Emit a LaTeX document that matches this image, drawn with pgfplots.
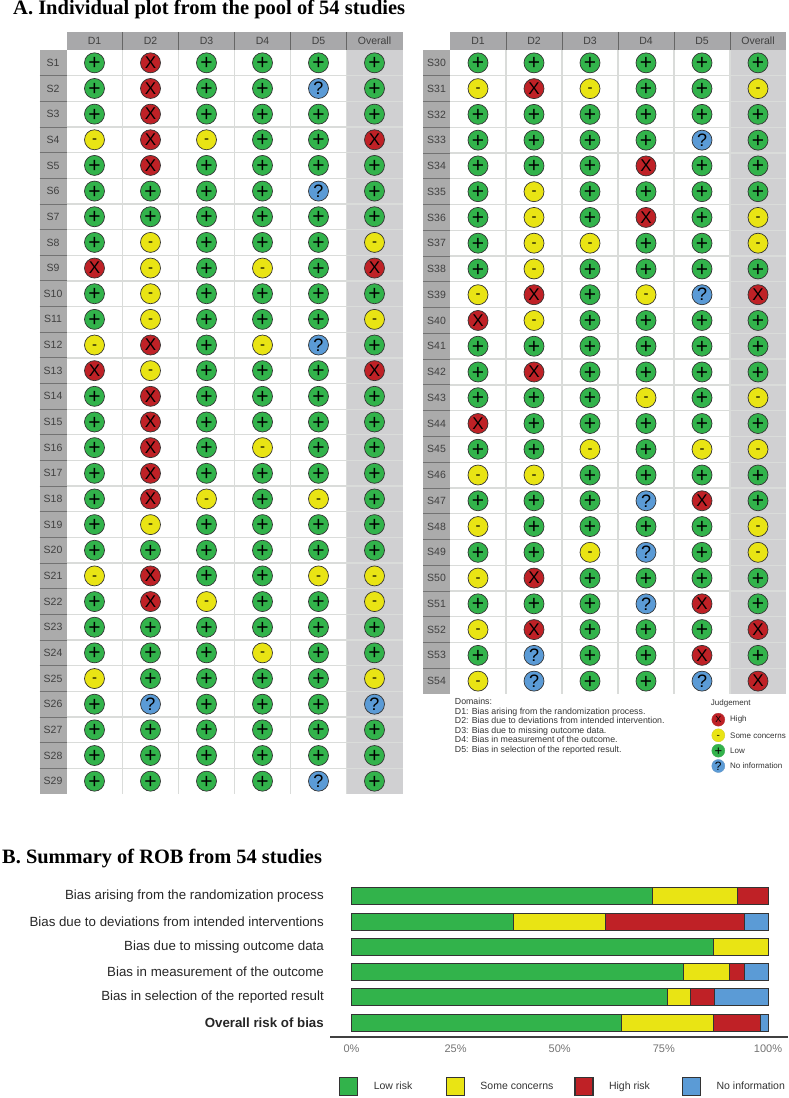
\documentclass[border=0pt]{standalone}
\usepackage{fontspec}
\setmainfont{Liberation Sans}
\newfontfamily\titlefont{Liberation Serif}
\usepackage{pgfplots}
\pgfplotsset{compat=1.18}

\definecolor{lowc}{HTML}{32B34B}
\definecolor{somec}{HTML}{E9E414}
\definecolor{highc}{HTML}{BF2126}
\definecolor{nonec}{HTML}{5B9BD6}
\definecolor{headc}{HTML}{A8A8AA}
\definecolor{labc}{HTML}{ABABAB}
\definecolor{allc}{HTML}{D0D0D2}
\definecolor{linec}{HTML}{DADCDA}
\definecolor{inkc}{HTML}{404040}

% one judgement: fill colour, symbol, symbol size
\pgfplotsset{
  judge/.style n args={3}{only marks, mark=*, mark size=10pt,
    mark options={fill=#1, draw=black!80, line width=0.7pt},
    nodes near coords={#2},
    every node near coord/.append style={anchor=center, inner sep=0pt, text=black, font=\fontsize{#3}{#3}\selectfont}},
  small judge/.style n args={3}{only marks, mark=*, mark size=6.5pt,
    mark options={fill=#1, draw=#1!80!gray, line width=0.4pt},
    nodes near coords={#2},
    every node near coord/.append style={anchor=center, inner sep=0pt, text=black, font=\fontsize{#3}{#3}\selectfont}},
  jlow/.style={judge={lowc}{+}{21}, every node near coord/.append style={yshift=-1pt}},
  jsome/.style={judge={somec}{-}{15}, every node near coord/.append style={yshift=-1.8pt}},
  jhigh/.style={judge={highc}{X}{17}},
  jnone/.style={judge={nonec}{?}{18}},
  panel/.style={scale only axis, width=336pt, clip=false, y dir=reverse, set layers,
    xmin=0.5, xmax=6.5, axis line style={draw=none}, major tick length=0pt,
    xtick={1,2,3,4,5,6}, xticklabels={D1,D2,D3,D4,D5,Overall}, xticklabel pos=upper,
    xticklabel style={anchor=center, yshift=9pt, inner sep=0pt, text=inkc, font=\fontsize{10.5}{10.5}\selectfont},
    yticklabel style={anchor=center, xshift=-13.5pt, inner sep=0pt, text=inkc, font=\fontsize{10.5}{10.5}\selectfont}},
  rob bar/.style={fill=#1, draw=black!80, line width=1pt}
}

\begin{document}
\begin{tikzpicture}[x=1pt,y=1pt]
\path (0,0) rectangle (789,1098);

\node[anchor=west, inner sep=0pt, font=\titlefont\bfseries\fontsize{20.5}{21}\selectfont] at (13,1088.5) {A. Individual plot from the pool of 54 studies};
\node[anchor=west, inner sep=0pt, font=\titlefont\bfseries\fontsize{20.4}{21}\selectfont] at (2,239) {B. Summary of ROB from 54 studies};

% ---- left panel
\begin{axis}[panel, at={(66.5pt,304pt)}, anchor=south west, height=744pt,
  ymin=0.5, ymax=29.5, ytick={1,...,29},
  yticklabels={S1,S2,S3,S4,S5,S6,S7,S8,S9,S10,S11,S12,S13,S14,S15,S16,S17,S18,S19,S20,S21,S22,S23,S24,S25,S26,S27,S28,S29}]
\begin{pgfonlayer}{axis background}
\fill[allc] (axis cs:5.5,0.5) rectangle (axis cs:6.5,29.5);
\fill[headc] (axis cs:0.5,-0.2) rectangle (axis cs:6.5,0.5);
\fill[labc] (axis cs:0.02,0.5) rectangle (axis cs:0.5,29.5);
\pgfplotsinvokeforeach{1,...,28}{\draw[linec, line width=1.3pt] (axis cs:0.5,#1.5) -- (axis cs:6.5,#1.5);
  \draw[black!55, line width=0.8pt] (axis cs:0.02,#1.5) -- (axis cs:0.5,#1.5);}
\pgfplotsinvokeforeach{1,...,5}{\draw[linec, line width=1.3pt] (axis cs:#1.5,0.5) -- (axis cs:#1.5,29.5);
  \draw[black!60, line width=0.8pt] (axis cs:#1.5,-0.2) -- (axis cs:#1.5,0.5);}
\end{pgfonlayer}
\addplot[jlow] coordinates {
 (1,1)(3,1)(4,1)(5,1)(6,1)
 (1,2)(3,2)(4,2)(6,2)
 (1,3)(3,3)(4,3)(5,3)(6,3)
 (4,4)(5,4)
 (1,5)(3,5)(4,5)(5,5)(6,5)
 (1,6)(2,6)(3,6)(4,6)(6,6)
 (1,7)(2,7)(3,7)(4,7)(5,7)(6,7)
 (1,8)(3,8)(4,8)(5,8)
 (3,9)(5,9)
 (1,10)(3,10)(4,10)(5,10)(6,10)
 (1,11)(3,11)(4,11)(5,11)
 (3,12)(6,12)
 (3,13)(4,13)(5,13)
 (1,14)(3,14)(4,14)(5,14)(6,14)
 (1,15)(3,15)(4,15)(5,15)(6,15)
 (1,16)(3,16)(5,16)(6,16)
 (1,17)(3,17)(4,17)(5,17)(6,17)
 (1,18)(4,18)(6,18)
 (1,19)(3,19)(4,19)(5,19)(6,19)
 (1,20)(2,20)(3,20)(4,20)(5,20)(6,20)
 (3,21)(4,21)
 (1,22)(4,22)(5,22)
 (1,23)(2,23)(3,23)(4,23)(5,23)(6,23)
 (1,24)(2,24)(3,24)(5,24)(6,24)
 (2,25)(3,25)(4,25)(5,25)
 (1,26)(3,26)(4,26)(5,26)
 (1,27)(2,27)(3,27)(4,27)(5,27)(6,27)
 (1,28)(2,28)(3,28)(4,28)(5,28)(6,28)
 (1,29)(2,29)(3,29)(4,29)(6,29)
};
\addplot[jsome] coordinates {
 (1,4)(3,4)(2,8)(6,8)(2,9)(4,9)(2,10)(2,11)(6,11)(1,12)(4,12)(2,13)(4,16)
 (3,18)(5,18)(2,19)(1,21)(5,21)(6,21)(3,22)(6,22)(4,24)(1,25)(6,25)
};
\addplot[jhigh] coordinates {
 (2,1)(2,2)(2,3)(2,4)(6,4)(2,5)(1,9)(6,9)(2,12)(1,13)(6,13)(2,14)(2,15)(2,16)(2,17)(2,18)(2,21)(2,22)
};
\addplot[jnone] coordinates {
 (5,2)(5,6)(5,12)(2,26)(6,26)(5,29)
};
\end{axis}

% ---- right panel
\begin{axis}[panel, at={(450pt,404pt)}, anchor=south west, height=644pt,
  ymin=29.5, ymax=54.5, ytick={30,...,54},
  yticklabels={S30,S31,S32,S33,S34,S35,S36,S37,S38,S39,S40,S41,S42,S43,S44,S45,S46,S47,S48,S49,S50,S51,S52,S53,S54}]
\begin{pgfonlayer}{axis background}
\fill[allc] (axis cs:5.5,29.5) rectangle (axis cs:6.5,54.5);
\fill[headc] (axis cs:0.5,28.8) rectangle (axis cs:6.5,29.5);
\fill[labc] (axis cs:0.02,29.5) rectangle (axis cs:0.5,54.5);
\pgfplotsinvokeforeach{30,...,53}{\draw[linec, line width=1.3pt] (axis cs:0.5,#1.5) -- (axis cs:6.5,#1.5);
  \draw[black!55, line width=0.8pt] (axis cs:0.02,#1.5) -- (axis cs:0.5,#1.5);}
\pgfplotsinvokeforeach{1,...,5}{\draw[linec, line width=1.3pt] (axis cs:#1.5,29.5) -- (axis cs:#1.5,54.5);
  \draw[black!60, line width=0.8pt] (axis cs:#1.5,28.8) -- (axis cs:#1.5,29.5);}
\end{pgfonlayer}
\addplot[jlow] coordinates {
 (1,30)(2,30)(3,30)(4,30)(5,30)(6,30)
 (4,31)(5,31)
 (1,32)(2,32)(3,32)(4,32)(5,32)(6,32)
 (1,33)(2,33)(3,33)(4,33)(6,33)
 (1,34)(2,34)(3,34)(5,34)(6,34)
 (1,35)(3,35)(4,35)(5,35)(6,35)
 (1,36)(3,36)(5,36)
 (1,37)(4,37)(5,37)
 (1,38)(3,38)(4,38)(5,38)(6,38)
 (3,39)
 (3,40)(4,40)(5,40)(6,40)
 (1,41)(2,41)(3,41)(4,41)(5,41)(6,41)
 (1,42)(3,42)(4,42)(5,42)(6,42)
 (1,43)(2,43)(3,43)(5,43)
 (2,44)(3,44)(4,44)(5,44)(6,44)
 (1,45)(2,45)(4,45)
 (3,46)(4,46)(5,46)(6,46)
 (1,47)(2,47)(3,47)(6,47)
 (2,48)(3,48)(4,48)(5,48)
 (1,49)(2,49)(5,49)
 (3,50)(4,50)(5,50)(6,50)
 (1,51)(2,51)(3,51)(6,51)
 (3,52)(4,52)(5,52)
 (1,53)(3,53)(4,53)(6,53)
 (3,54)(4,54)
};
\addplot[jsome] coordinates {
 (1,31)(3,31)(6,31)(2,35)(2,36)(6,36)(2,37)(3,37)(6,37)(2,38)(1,39)(4,39)(2,40)
 (4,43)(6,43)(3,45)(5,45)(6,45)(1,46)(2,46)(1,48)(6,48)(3,49)(6,49)(1,50)(1,52)(1,54)
};
\addplot[jhigh] coordinates {
 (2,31)(4,34)(4,36)(2,39)(6,39)(1,40)(2,42)(1,44)(5,47)(2,50)(5,51)(2,52)(6,52)(5,53)(6,54)
};
\addplot[jnone] coordinates {
 (5,33)(5,39)(4,47)(4,49)(4,51)(2,53)(2,54)(5,54)
};
\end{axis}

% ---- domains and judgement key
\node[anchor=north west, inner sep=0pt, align=left, text=black!80, font=\fontsize{8.8}{9.6}\selectfont] at (454.7,1098-698) {Domains:\\
D1: Bias arising from the randomization process.\\
D2: Bias due to deviations from intended intervention.\\
D3: Bias due to missing outcome data.\\
D4: Bias in measurement of the outcome.\\
D5: Bias in selection of the reported result.};
\node[anchor=west, inner sep=0pt, text=black!80, font=\fontsize{8}{8}\selectfont] at (710.7,1098-703) {Judgement};
\begin{axis}[hide axis, scale only axis, clip=false, at={(700pt,326pt)}, anchor=south west,
  width=60pt, height=60pt, xmin=0, xmax=60, ymin=0, ymax=60, y dir=reverse]
\addplot[small judge={highc}{X}{9}] coordinates {(18.3,7.7)};
\addplot[small judge={somec}{-}{10}, every node near coord/.append style={yshift=-1.2pt}] coordinates {(18.3,23.3)};
\addplot[small judge={lowc}{+}{13}, every node near coord/.append style={yshift=-0.6pt}] coordinates {(18.3,38.7)};
\addplot[small judge={nonec}{?}{12}] coordinates {(18.3,54)};
\node[anchor=west, inner sep=0pt, text=black!80, font=\fontsize{8}{8}\selectfont] at (axis cs:30,7.7) {High};
\node[anchor=west, inner sep=0pt, text=black!80, font=\fontsize{8}{8}\selectfont] at (axis cs:30,23.3) {Some concerns};
\node[anchor=west, inner sep=0pt, text=black!80, font=\fontsize{8}{8}\selectfont] at (axis cs:30,38.7) {Low};
\node[anchor=west, inner sep=0pt, text=black!80, font=\fontsize{8}{8}\selectfont] at (axis cs:30,54) {No information};
\end{axis}

% ---- summary bars
\begin{axis}[scale only axis, at={(330pt,61pt)}, anchor=south west, width=458pt, height=153pt,
  xbar stacked, bar width=17pt, y dir=reverse, clip=false,
  xmin=-5.16, xmax=104.8, ymin=0.51, ymax=6.565,
  separate axis lines, axis x line*=bottom, axis y line*=left,
  y axis line style={draw=none}, x axis line style={draw=black!75, line width=1.2pt},
  xtick={0,25,50,75,100}, xticklabels={0\%,25\%,50\%,75\%,100\%}, major tick length=0pt,
  xticklabel style={text=black!55, anchor=center, yshift=-12pt, font=\fontsize{11}{11}\selectfont},
  ytick={1,2,3,4,5,6},
  yticklabels={Bias arising from the randomization process,Bias due to deviations from intended interventions,Bias due to missing outcome data,Bias in measurement of the outcome,Bias in selection of the reported result,\textbf{Overall risk of bias}},
  yticklabel style={anchor=east, inner sep=0pt, xshift=-6pt, text=black!85, font=\fontsize{13.3}{13.3}\selectfont},
  legend columns=4,
  legend image code/.code={\path[draw=none, fill=none] (0pt,0pt) -- (32pt,0pt); \draw[#1, line width=1.2pt] (0pt,-9pt) rectangle (18pt,9pt);},
  legend style={draw=none, fill=none, inner sep=0pt, anchor=west, at={(0.0197,-0.3235)}, font=\fontsize{10.5}{10.5}\selectfont, text=black!80},
  legend cell align=left]
\addplot[rob bar=lowc] coordinates {(72.2,1)(38.9,2)(87.0,3)(79.6,4)(75.9,5)(64.8,6)};
\addplot[rob bar=somec] coordinates {(20.4,1)(22.2,2)(13.0,3)(11.1,4)(5.6,5)(22.2,6)};
\addplot[rob bar=highc] coordinates {(7.4,1)(33.3,2)(0,3)(3.7,4)(5.6,5)(11.1,6)};
\addplot[rob bar=nonec] coordinates {(0,1)(5.6,2)(0,3)(5.6,4)(13.0,5)(1.9,6)};
\legend{\makebox[70pt][l]{Low risk},\makebox[92pt][l]{Some concerns},\makebox[71pt][l]{High risk},No information}
\end{axis}
\end{tikzpicture}
\end{document}
